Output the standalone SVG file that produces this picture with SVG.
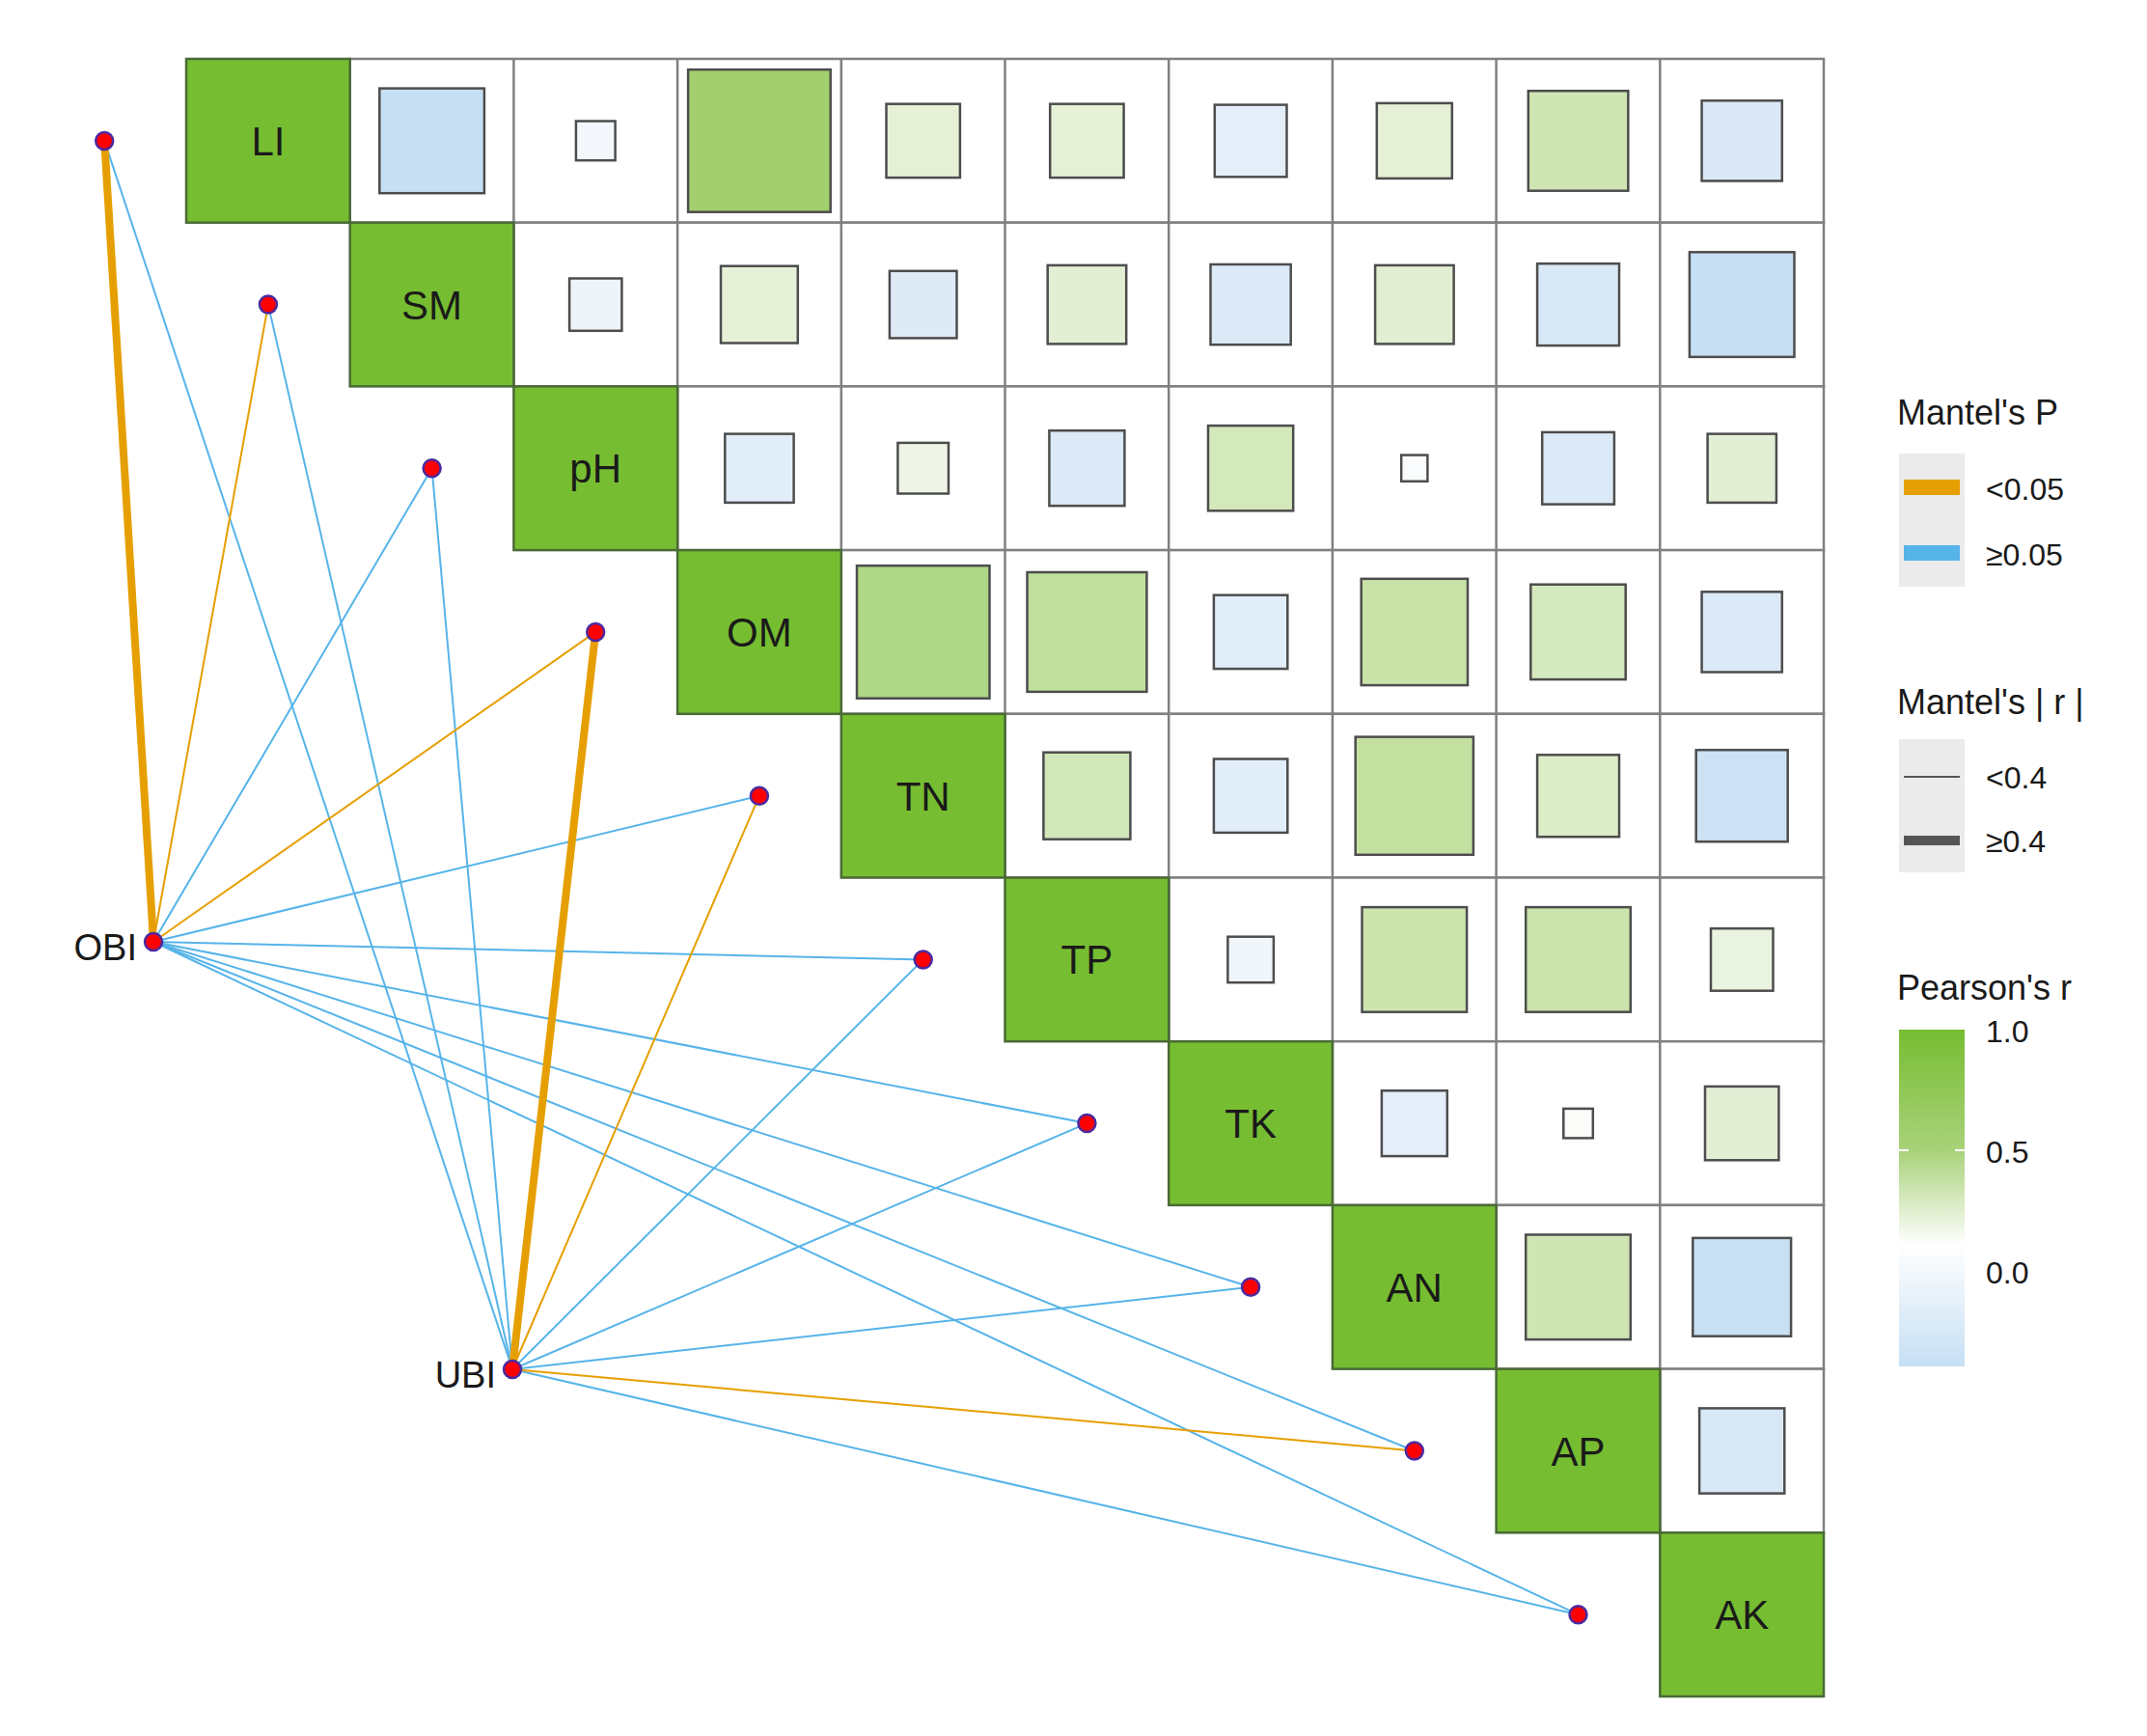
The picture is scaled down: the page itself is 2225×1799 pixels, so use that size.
<svg xmlns="http://www.w3.org/2000/svg" width="2225" height="1799" viewBox="0 0 2225 1799">
<defs>
<style>
text{font-family:"Liberation Sans",Arial,sans-serif;fill:#1a1a1a}
.cell{fill:#fff;stroke:#808080;stroke-width:2.5}
.diag{fill:#77bd32;stroke:#4a6a35;stroke-width:2.5}
.lab{font-size:42px;text-anchor:middle}
.sq{stroke:#4d4d4d;stroke-width:2.5}
.b{stroke:#56b4e9;stroke-width:2;fill:none}
.o{stroke:#e69f00;stroke-width:2;fill:none}
.ot{stroke:#e69f00;stroke-width:8;fill:none}
.dot{fill:#ff0000;stroke:#4b2aa0;stroke-width:2.5}
.leg{font-size:36px}
.tick{font-size:32px}
</style>
<linearGradient id="pg" x1="0" y1="0" x2="0" y2="1">
<stop offset="0" stop-color="#77bd32"/>
<stop offset="0.36" stop-color="#a9d27a"/>
<stop offset="0.64" stop-color="#ffffff"/>
<stop offset="1" stop-color="#c6dff4"/>
</linearGradient>
</defs>
<rect width="2225" height="1799" fill="#fff"/>
<g id="grid">
<rect class="cell" x="362.7" y="61" width="1527.3" height="169.7"/>
<rect class="cell" x="532.4" y="230.7" width="1357.6" height="169.7"/>
<rect class="cell" x="702.1" y="400.4" width="1187.9" height="169.7"/>
<rect class="cell" x="871.8" y="570.1" width="1018.2" height="169.7"/>
<rect class="cell" x="1041.5" y="739.8" width="848.5" height="169.7"/>
<rect class="cell" x="1211.2" y="909.5" width="678.8" height="169.7"/>
<rect class="cell" x="1380.9" y="1079.2" width="509.1" height="169.7"/>
<rect class="cell" x="1550.6" y="1248.9" width="339.4" height="169.7"/>
<rect class="cell" x="1720.3" y="1418.6" width="169.7" height="169.7"/>
<path d="M532.4 61V400.4M702.1 61V570.1M871.8 61V739.8M1041.5 61V909.5M1211.2 61V1079.2M1380.9 61V1248.9M1550.6 61V1418.6M1720.3 61V1588.3" stroke="#808080" stroke-width="2.5"/>
</g>
<g id="diagonal">
<g id="LI"><rect class="diag" x="193" y="61" width="169.7" height="169.7"/><text class="lab" x="277.9" y="161">LI</text></g>
<g id="SM"><rect class="diag" x="362.7" y="230.7" width="169.7" height="169.7"/><text class="lab" x="447.6" y="330.6">SM</text></g>
<g id="pH"><rect class="diag" x="532.4" y="400.4" width="169.7" height="169.7"/><text class="lab" x="617.2" y="500.2">pH</text></g>
<g id="OM"><rect class="diag" x="702.1" y="570.1" width="169.7" height="169.7"/><text class="lab" x="786.9" y="669.9">OM</text></g>
<g id="TN"><rect class="diag" x="871.8" y="739.8" width="169.7" height="169.7"/><text class="lab" x="956.7" y="839.7">TN</text></g>
<g id="TP"><rect class="diag" x="1041.5" y="909.5" width="169.7" height="169.7"/><text class="lab" x="1126.4" y="1009.4">TP</text></g>
<g id="TK"><rect class="diag" x="1211.2" y="1079.2" width="169.7" height="169.7"/><text class="lab" x="1296.1" y="1179.1">TK</text></g>
<g id="AN"><rect class="diag" x="1380.9" y="1248.9" width="169.7" height="169.7"/><text class="lab" x="1465.8" y="1348.8">AN</text></g>
<g id="AP"><rect class="diag" x="1550.6" y="1418.6" width="169.7" height="169.7"/><text class="lab" x="1635.5" y="1518.5">AP</text></g>
<g id="AK"><rect class="diag" x="1720.3" y="1588.3" width="169.7" height="169.7"/><text class="lab" x="1805.2" y="1688.2">AK</text></g>
</g>
<g id="squares" class="sq">
<rect x="393.3" y="91.6" width="108.6" height="108.6" fill="#c6dff2"/>
<rect x="596.9" y="125.5" width="40.7" height="40.7" fill="#f3f7fb"/>
<rect x="713.1" y="72.1" width="147.6" height="147.6" fill="#a3cf6e"/>
<rect x="918.5" y="107.7" width="76.4" height="76.4" fill="#e5f0d6"/>
<rect x="1088.2" y="107.7" width="76.4" height="76.4" fill="#e5f0d6"/>
<rect x="1258.8" y="108.6" width="74.7" height="74.7" fill="#e3eef8"/>
<rect x="1426.8" y="106.9" width="78" height="78" fill="#e5f0d6"/>
<rect x="1583.8" y="94.2" width="103.5" height="103.5" fill="#cfe5b3"/>
<rect x="1763.6" y="104.3" width="83.2" height="83.2" fill="#dbe9f6"/>
<rect x="590.1" y="288.5" width="54.3" height="54.3" fill="#eef4fa"/>
<rect x="747" y="275.7" width="79.8" height="79.8" fill="#e5f0d6"/>
<rect x="921.9" y="280.8" width="69.6" height="69.6" fill="#deebf7"/>
<rect x="1085.7" y="274.9" width="81.5" height="81.5" fill="#e3efd4"/>
<rect x="1254.5" y="274" width="83.2" height="83.2" fill="#dce9f6"/>
<rect x="1425.1" y="274.9" width="81.5" height="81.5" fill="#e1eed1"/>
<rect x="1593.1" y="273.2" width="84.9" height="84.9" fill="#d9e8f6"/>
<rect x="1750.9" y="261.3" width="108.6" height="108.6" fill="#c7dff3"/>
<rect x="751.3" y="449.6" width="71.3" height="71.3" fill="#e1edf8"/>
<rect x="930.4" y="458.9" width="52.6" height="52.6" fill="#eef5e6"/>
<rect x="1087.4" y="446.2" width="78" height="78" fill="#dceaf7"/>
<rect x="1252" y="441.1" width="88.2" height="88.2" fill="#d3e8bb"/>
<rect x="1452.2" y="471.6" width="27.2" height="27.2" fill="#fafbfc"/>
<rect x="1598.2" y="447.9" width="74.7" height="74.7" fill="#dceaf7"/>
<rect x="1769.6" y="449.6" width="71.3" height="71.3" fill="#e3efd5"/>
<rect x="888" y="586.2" width="137.5" height="137.5" fill="#b0d786"/>
<rect x="1064.5" y="593" width="123.9" height="123.9" fill="#c0df9c"/>
<rect x="1257.9" y="616.7" width="76.4" height="76.4" fill="#e1edf8"/>
<rect x="1410.7" y="599.8" width="110.3" height="110.3" fill="#c8e2a8"/>
<rect x="1586.3" y="605.7" width="98.4" height="98.4" fill="#d5e9be"/>
<rect x="1763.6" y="613.3" width="83.2" height="83.2" fill="#dceaf7"/>
<rect x="1081.4" y="779.7" width="90" height="90" fill="#d2e7b8"/>
<rect x="1257.9" y="786.5" width="76.4" height="76.4" fill="#e1edf8"/>
<rect x="1404.7" y="763.6" width="122.2" height="122.2" fill="#c3e0a0"/>
<rect x="1593.1" y="782.3" width="84.9" height="84.9" fill="#dcedc8"/>
<rect x="1757.7" y="777.2" width="95" height="95" fill="#cde2f4"/>
<rect x="1272.4" y="970.7" width="47.5" height="47.5" fill="#f1f6fb"/>
<rect x="1411.5" y="940.1" width="108.6" height="108.6" fill="#cde4af"/>
<rect x="1581.2" y="940.1" width="108.6" height="108.6" fill="#cbe3ac"/>
<rect x="1773" y="962.2" width="64.5" height="64.5" fill="#e9f3df"/>
<rect x="1431.9" y="1130.2" width="67.9" height="67.9" fill="#e3eef8"/>
<rect x="1620.3" y="1148.9" width="30.5" height="30.5" fill="#fbfcfa"/>
<rect x="1767" y="1125.9" width="76.4" height="76.4" fill="#e3efd5"/>
<rect x="1581.2" y="1279.5" width="108.6" height="108.6" fill="#cfe5b3"/>
<rect x="1754.3" y="1282.9" width="101.8" height="101.8" fill="#c9e0f3"/>
<rect x="1761.1" y="1459.4" width="88.2" height="88.2" fill="#d8e8f6"/>
</g>
<g id="connectors">
<line class="b" x1="159" y1="976" x2="447.6" y2="485.2"/>
<line class="b" x1="159" y1="976" x2="786.9" y2="824.7"/>
<line class="b" x1="159" y1="976" x2="956.7" y2="994.4"/>
<line class="b" x1="159" y1="976" x2="1126.4" y2="1164.1"/>
<line class="b" x1="159" y1="976" x2="1296.1" y2="1333.8"/>
<line class="b" x1="159" y1="976" x2="1465.8" y2="1503.5"/>
<line class="b" x1="159" y1="976" x2="1635.5" y2="1673.2"/>
<line class="b" x1="531" y1="1419" x2="108.2" y2="145.9"/>
<line class="b" x1="531" y1="1419" x2="277.9" y2="315.6"/>
<line class="b" x1="531" y1="1419" x2="447.6" y2="485.2"/>
<line class="b" x1="531" y1="1419" x2="956.7" y2="994.4"/>
<line class="b" x1="531" y1="1419" x2="1126.4" y2="1164.1"/>
<line class="b" x1="531" y1="1419" x2="1296.1" y2="1333.8"/>
<line class="b" x1="531" y1="1419" x2="1635.5" y2="1673.2"/>
<line class="o" x1="159" y1="976" x2="277.9" y2="315.6"/>
<line class="o" x1="159" y1="976" x2="617.2" y2="654.9"/>
<line class="o" x1="531" y1="1419" x2="786.9" y2="824.7"/>
<line class="o" x1="531" y1="1419" x2="1465.8" y2="1503.5"/>
<line class="ot" x1="159" y1="976" x2="108.2" y2="145.9"/>
<line class="ot" x1="531" y1="1419" x2="617.2" y2="654.9"/>
</g>
<g id="points">
<circle class="dot" cx="108.2" cy="145.9" r="9"/>
<circle class="dot" cx="277.9" cy="315.6" r="9"/>
<circle class="dot" cx="447.6" cy="485.2" r="9"/>
<circle class="dot" cx="617.2" cy="654.9" r="9"/>
<circle class="dot" cx="786.9" cy="824.7" r="9"/>
<circle class="dot" cx="956.7" cy="994.4" r="9"/>
<circle class="dot" cx="1126.4" cy="1164.1" r="9"/>
<circle class="dot" cx="1296.1" cy="1333.8" r="9"/>
<circle class="dot" cx="1465.8" cy="1503.5" r="9"/>
<circle class="dot" cx="1635.5" cy="1673.2" r="9"/>
</g>
<g id="OBI"><circle class="dot" cx="159" cy="976" r="9"/><text x="142" y="995" font-size="38" text-anchor="end">OBI</text></g>
<g id="UBI"><circle class="dot" cx="531" cy="1419" r="9"/><text x="514" y="1438" font-size="38" text-anchor="end">UBI</text></g>
<g id="legend">
<text class="leg" x="1966" y="440">Mantel's P</text>
<rect x="1968" y="470" width="68" height="138" fill="#ebebeb"/>
<rect x="1973" y="497" width="58" height="16" fill="#e69f00"/>
<rect x="1973" y="565" width="58" height="16" fill="#56b4e9"/>
<text class="tick" x="2058" y="518">&lt;0.05</text>
<text class="tick" x="2058" y="586">≥0.05</text>
<text class="leg" x="1966" y="740">Mantel's | r |</text>
<rect x="1968" y="766" width="68" height="138" fill="#ebebeb"/>
<line x1="1973" y1="805" x2="2031" y2="805" stroke="#555" stroke-width="2"/>
<line x1="1973" y1="871" x2="2031" y2="871" stroke="#555" stroke-width="10"/>
<text class="tick" x="2058" y="817">&lt;0.4</text>
<text class="tick" x="2058" y="883">≥0.4</text>
<text class="leg" x="1966" y="1036">Pearson's r</text>
<rect x="1968" y="1067" width="68" height="349" fill="url(#pg)"/>
<path d="M1968 1192h10M2026 1192h10" stroke="#fff" stroke-width="2"/>
<text class="tick" x="2058" y="1080">1.0</text>
<text class="tick" x="2058" y="1205">0.5</text>
<text class="tick" x="2058" y="1330">0.0</text>
</g>
</svg>
